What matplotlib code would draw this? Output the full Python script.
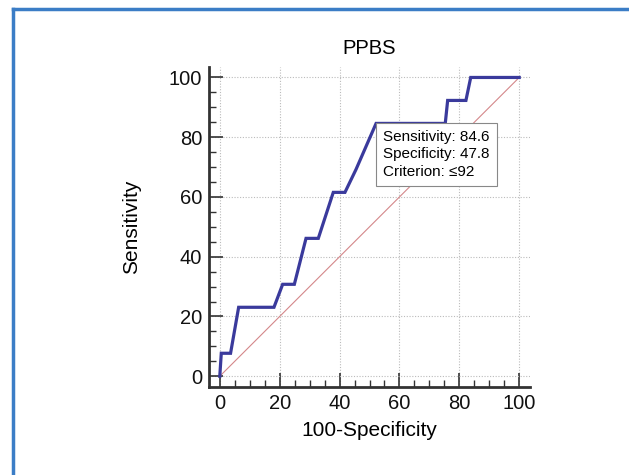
import matplotlib
matplotlib.use("Agg")
import matplotlib.pyplot as plt
from matplotlib.lines import Line2D
from matplotlib.ticker import MultipleLocator

plt.rcParams['font.family'] = ['Liberation Sans', 'DejaVu Sans']

# ROC curve points (100-Specificity, Sensitivity)
fpr = [0, 0.5, 3.6, 6.3, 18.1, 21.0, 24.9, 28.8, 32.9, 37.9, 41.8, 45.5, 52.2, 75.3, 76.1, 82.2, 83.8, 100]
tpr = [0, 7.69, 7.69, 23.08, 23.08, 30.77, 30.77, 46.15, 46.15, 61.54, 61.54, 69.23, 84.62, 84.62, 92.31, 92.31, 100, 100]
diag = [0, 100]
ticks = [0, 20, 40, 60, 80, 100]
title = "PPBS"
xlabel = "100-Specificity"
ylabel = "Sensitivity"
box_text = "Sensitivity: 84.6\nSpecificity: 47.8\nCriterion: \u226492"

fig = plt.figure(figsize=(6.29, 4.75), dpi=100)
ax = fig.add_axes([209/629, 1-387/475, (530-209)/629, (387-66.7)/475])

ax.plot(diag, diag, color='#d4878a', lw=0.8, zorder=2)
ax.plot(fpr, tpr, color='#3a3a9c', lw=2.3, zorder=3, solid_joinstyle='miter')

ax.set_xlim(-3.6, 103.6)
ax.set_ylim(-3.6, 103.6)
ax.xaxis.set_minor_locator(MultipleLocator(5))
ax.yaxis.set_minor_locator(MultipleLocator(5))
ax.set_xticks(ticks)
ax.set_yticks(ticks)
ax.grid(True, which='major', color='#bbbbbb', ls=(0, (1, 1.5)), lw=0.8)
ax.tick_params(which='major', direction='in', length=10, width=1.2, color='#333333',
               labelsize=14.5, pad=5, labelcolor='#111111')
ax.tick_params(which='minor', direction='in', length=5, width=1.0, color='#333333')
for s in ['top', 'right']:
    ax.spines[s].set_visible(False)
for s in ['left', 'bottom']:
    ax.spines[s].set_linewidth(2)
    ax.spines[s].set_color('#333333')

ax.set_title(title, fontsize=14.5, pad=9)
ax.set_xlabel(xlabel, fontsize=15, labelpad=6)
ax.set_ylabel(ylabel, fontsize=15, labelpad=20)

ax.text(54.6, 82.4, box_text, fontsize=11, va='top', ha='left', linespacing=1.3, zorder=5,
        bbox=dict(boxstyle='square,pad=0.45', facecolor='white', edgecolor='#888888', lw=0.8))

# blue frame of the screenshot
fig.add_artist(Line2D([13/629, 13/629], [0, 1-8.5/475], transform=fig.transFigure, color='#3b7dc6', lw=2.5))
fig.add_artist(Line2D([13/629, 1], [1-8.5/475, 1-8.5/475], transform=fig.transFigure, color='#3b7dc6', lw=2.5))

fig.savefig("out.png", dpi=100)
